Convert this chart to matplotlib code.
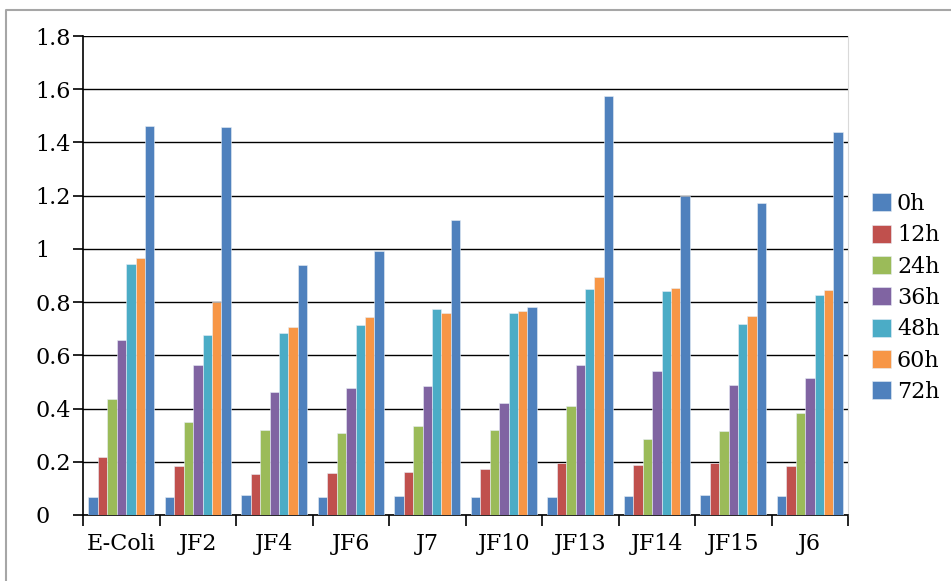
import numpy as np
import matplotlib.pyplot as plt
from matplotlib.lines import Line2D

plt.rcParams['font.family'] = ['DejaVu Serif']

strains = ['E-Coli', 'JF2', 'JF4', 'JF6', 'J7', 'JF10', 'JF13', 'JF14', 'JF15', 'J6']
times = ['0h', '12h', '24h', '36h', '48h', '60h', '72h']

# OD value per strain, one list per time point
h0 = [0.067, 0.067, 0.074, 0.067, 0.071, 0.067, 0.067, 0.071, 0.074, 0.071]
h12 = [0.218, 0.183, 0.155, 0.158, 0.162, 0.172, 0.195, 0.188, 0.195, 0.184]
h24 = [0.437, 0.350, 0.319, 0.308, 0.336, 0.318, 0.409, 0.286, 0.315, 0.384]
h36 = [0.657, 0.565, 0.464, 0.476, 0.483, 0.421, 0.562, 0.540, 0.488, 0.516]
h48 = [0.944, 0.675, 0.683, 0.715, 0.774, 0.760, 0.851, 0.841, 0.718, 0.827]
h60 = [0.967, 0.802, 0.707, 0.743, 0.760, 0.767, 0.894, 0.852, 0.746, 0.847]
h72 = [1.463, 1.459, 0.940, 0.993, 1.110, 0.780, 1.576, 1.200, 1.172, 1.438]

series = [h0, h12, h24, h36, h48, h60, h72]
colors = ['#4F81BD', '#C0504D', '#9BBB59', '#8064A2', '#4BACC6', '#F79646', '#4F81BD']

fig = plt.figure(figsize=(9.51, 5.81), dpi=100)
ax = fig.add_axes([0.0873, 0.1136, 0.8044, 0.8244])

# 外枠 (左と上だけ見えている)
fig.add_artist(Line2D([0.0068, 0.0068, 1.0], [0.0, 0.9836, 0.9836], transform=fig.transFigure,
                      color='#a6a6a6', linewidth=1.5))

x = np.arange(len(strains)) + 0.5
w = 0.124
for i, (vals, c, t) in enumerate(zip(series, colors, times)):
    ax.bar(x + (i - 3) * w, vals, width=w, color=c, edgecolor='#e8eef6',
           linewidth=0.4, label=t, zorder=3)

ax.set_xlim(0, len(strains))
ax.set_ylim(0, 1.8)
ax.set_yticks(np.arange(0, 1.81, 0.2))
ax.set_yticklabels(['0', '0.2', '0.4', '0.6', '0.8', '1', '1.2', '1.4', '1.6', '1.8'])
ax.yaxis.grid(True, color='black', linewidth=1.0)
ax.set_axisbelow(True)

ax.set_xticks(x)
ax.set_xticklabels(strains)
ax.set_xticks(np.arange(0, len(strains) + 1), minor=True)
ax.tick_params(axis='x', which='major', length=0, pad=13, labelsize=16)
ax.tick_params(axis='x', which='minor', length=8, width=1.2, direction='out')
ax.tick_params(axis='y', length=7, width=1.2, direction='out', pad=27, labelsize=16)
for lbl in ax.get_yticklabels():
    lbl.set_horizontalalignment('left')

ax.spines['top'].set_visible(False)
ax.spines['right'].set_color('#d9d9d9')
ax.spines['left'].set_linewidth(1.2)
ax.spines['bottom'].set_linewidth(1.2)

fig.legend(loc='center left', bbox_to_anchor=(0.917, 0.487), frameon=False,
           fontsize=16, handlelength=0.85, handleheight=0.85, handletextpad=0.27,
           labelspacing=0.42, borderaxespad=0, borderpad=0)

fig.savefig('out.png', dpi=100)
